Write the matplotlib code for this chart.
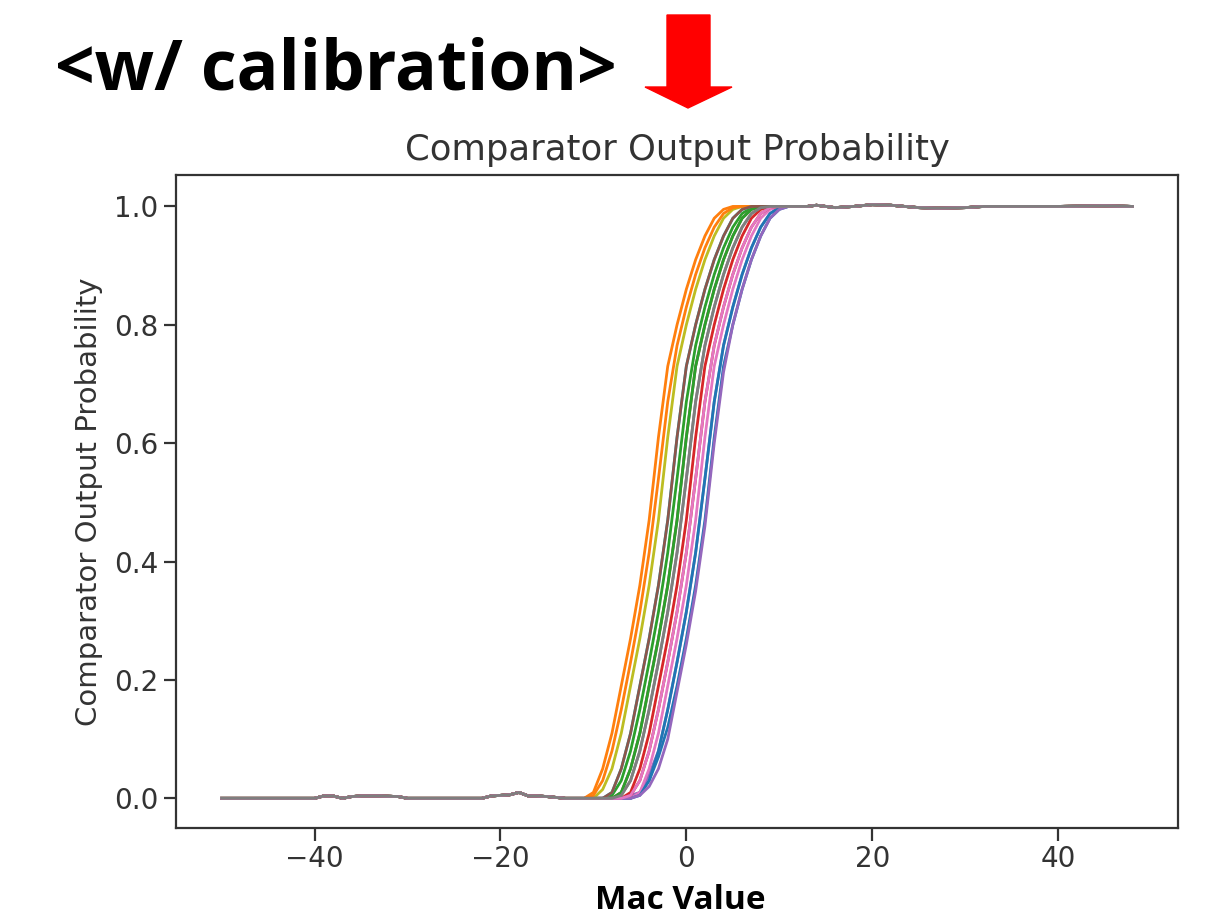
import matplotlib
matplotlib.use("Agg")
import matplotlib.pyplot as plt
from matplotlib.patches import Polygon

# flat parts shared by all sweeps
x_left = [-50, -45, -40, -39, -38, -37, -36, -35, -33, -31, -30, -25, -22, -21,
          -20, -19, -18, -17, -16, -15, -13]
y_left = [0, 0, 0, 0.004, 0.004, 0, 0.003, 0.004, 0.004, 0.003, 0, 0, 0, 0.004,
          0.005, 0.006, 0.01, 0.004, 0.004, 0.003, 0]
x_right = [13, 14, 15, 16, 18, 20, 22, 25, 27, 30, 32, 35, 40, 45, 48]
y_right = [1, 1.002, 1.0, 0.998, 1.0, 1.003, 1.002, 0.998, 0.997, 0.998, 1.0,
           1.0, 1.0, 1.001, 1.0]

# transition region, one row per comparator
x_mid = [-12, -11, -10, -9, -8, -7, -6, -5, -4, -3, -2, -1, 0, 1, 2, 3, 4, 5, 6,
         7, 8, 9, 10, 11, 12]
curves = [
    [0, 0, 0, 0, 0, 0, 0, 0.01, 0.03, 0.07, 0.12, 0.19, 0.27, 0.36, 0.47, 0.61, 0.73, 0.80, 0.86, 0.91, 0.95, 0.98, 0.995, 1, 1],
    [0, 0, 0.01, 0.05, 0.11, 0.19, 0.27, 0.36, 0.47, 0.61, 0.73, 0.80, 0.86, 0.91, 0.95, 0.98, 0.995, 1, 1, 1, 1, 1, 1, 1, 1],
    [0, 0, 0, 0, 0.005, 0.03, 0.08, 0.15, 0.23, 0.315, 0.415, 0.54, 0.67, 0.765, 0.83, 0.885, 0.93, 0.965, 0.988, 0.998, 1, 1, 1, 1, 1],
    [0, 0, 0, 0, 0, 0, 0.01, 0.05, 0.11, 0.19, 0.27, 0.36, 0.47, 0.61, 0.73, 0.80, 0.86, 0.91, 0.95, 0.98, 0.995, 1, 1, 1, 1],
    [0, 0, 0, 0, 0, 0, 0.005, 0.01, 0.04, 0.08, 0.15, 0.23, 0.315, 0.415, 0.54, 0.67, 0.765, 0.83, 0.885, 0.93, 0.965, 0.988, 0.998, 1, 1],
    [0, 0, 0, 0, 0, 0.01, 0.05, 0.11, 0.19, 0.27, 0.36, 0.47, 0.61, 0.73, 0.80, 0.86, 0.91, 0.95, 0.98, 0.995, 1, 1, 1, 1, 1],
    [0, 0, 0, 0, 0, 0, 0, 0.01, 0.05, 0.11, 0.19, 0.27, 0.36, 0.47, 0.61, 0.73, 0.80, 0.86, 0.91, 0.95, 0.98, 0.995, 1, 1, 1],
    [0, 0, 0, 0, 0, 0.005, 0.03, 0.08, 0.15, 0.23, 0.315, 0.415, 0.54, 0.67, 0.765, 0.83, 0.885, 0.93, 0.965, 0.988, 0.998, 1, 1, 1, 1],
    [0, 0, 0, 0.015, 0.05, 0.11, 0.19, 0.27, 0.36, 0.47, 0.61, 0.73, 0.80, 0.86, 0.91, 0.95, 0.98, 0.995, 1, 1, 1, 1, 1, 1, 1],
    [0, 0, 0, 0, 0.01, 0.05, 0.11, 0.19, 0.27, 0.36, 0.47, 0.61, 0.73, 0.80, 0.86, 0.91, 0.95, 0.98, 0.995, 1, 1, 1, 1, 1, 1],
    [0, 0, 0, 0, 0, 0, 0, 0.005, 0.03, 0.08, 0.15, 0.23, 0.315, 0.415, 0.54, 0.67, 0.765, 0.83, 0.885, 0.93, 0.965, 0.988, 0.998, 1, 1],
    [0, 0, 0.005, 0.03, 0.08, 0.15, 0.23, 0.315, 0.415, 0.54, 0.67, 0.765, 0.83, 0.885, 0.93, 0.965, 0.988, 0.998, 1, 1, 1, 1, 1, 1, 1],
    [0, 0, 0, 0, 0, 0.01, 0.05, 0.11, 0.19, 0.27, 0.36, 0.47, 0.61, 0.73, 0.80, 0.86, 0.91, 0.95, 0.98, 0.995, 1, 1, 1, 1, 1],
    [0, 0, 0, 0, 0, 0, 0.005, 0.03, 0.08, 0.15, 0.23, 0.315, 0.415, 0.54, 0.67, 0.765, 0.83, 0.885, 0.93, 0.965, 0.988, 0.998, 1, 1, 1],
    [0, 0, 0, 0, 0, 0, 0, 0.005, 0.02, 0.05, 0.10, 0.18, 0.26, 0.35, 0.46, 0.60, 0.72, 0.80, 0.86, 0.91, 0.95, 0.98, 0.995, 1, 1],
    [0, 0, 0, 0, 0.01, 0.05, 0.11, 0.19, 0.27, 0.36, 0.47, 0.61, 0.73, 0.80, 0.86, 0.91, 0.95, 0.98, 0.995, 1, 1, 1, 1, 1, 1],
    [0, 0, 0, 0, 0, 0, 0.005, 0.03, 0.08, 0.15, 0.23, 0.315, 0.415, 0.54, 0.67, 0.765, 0.83, 0.885, 0.93, 0.965, 0.988, 0.998, 1, 1, 1],
    [0, 0, 0, 0, 0, 0.005, 0.03, 0.08, 0.15, 0.23, 0.315, 0.415, 0.54, 0.67, 0.765, 0.83, 0.885, 0.93, 0.965, 0.988, 0.998, 1, 1, 1, 1],
]

fig = plt.figure(figsize=(12.09, 9.19), dpi=100)
ax = fig.add_axes([0.1456, 0.099, 0.8288, 0.7106])

x_all = x_left + x_mid + x_right
for i, c in enumerate(curves):
    ax.plot(x_all, y_left + c + y_right, color=f"C{i % 10}", lw=2.0)

txt = "#333333"
ax.set_title("Comparator Output Probability", fontsize=25.5, color=txt, pad=11)
ax.set_ylabel("Comparator Output Probability", fontsize=21, color=txt, labelpad=8)
ax.set_xticks([-40, -20, 0, 20, 40])
ax.set_yticks([0.0, 0.2, 0.4, 0.6, 0.8, 1.0])
ax.tick_params(labelsize=20, labelcolor=txt, length=9, width=1.6, color=txt)
for s in ax.spines.values():
    s.set_linewidth(1.6)
    s.set_color(txt)

# slide annotations around the plot
fig.text(55 / 1209, 1 - 90 / 919, "<w/ calibration>", fontsize=50,
         fontweight="bold", family="Open Sans", va="baseline", ha="left")
fig.text(680 / 1209, 1 - 909 / 919, "Mac Value", fontsize=24,
         fontweight="bold", family="Open Sans", va="baseline", ha="center")
arrow_px = [(667, 15), (710, 15), (710, 87), (732, 87), (688, 108),
            (645, 87), (667, 87)]
arrow = Polygon([(px / 1209, 1 - py / 919) for px, py in arrow_px],
                closed=True, color="red", transform=fig.transFigure)
fig.patches.append(arrow)

fig.savefig("out.png", dpi=100)
